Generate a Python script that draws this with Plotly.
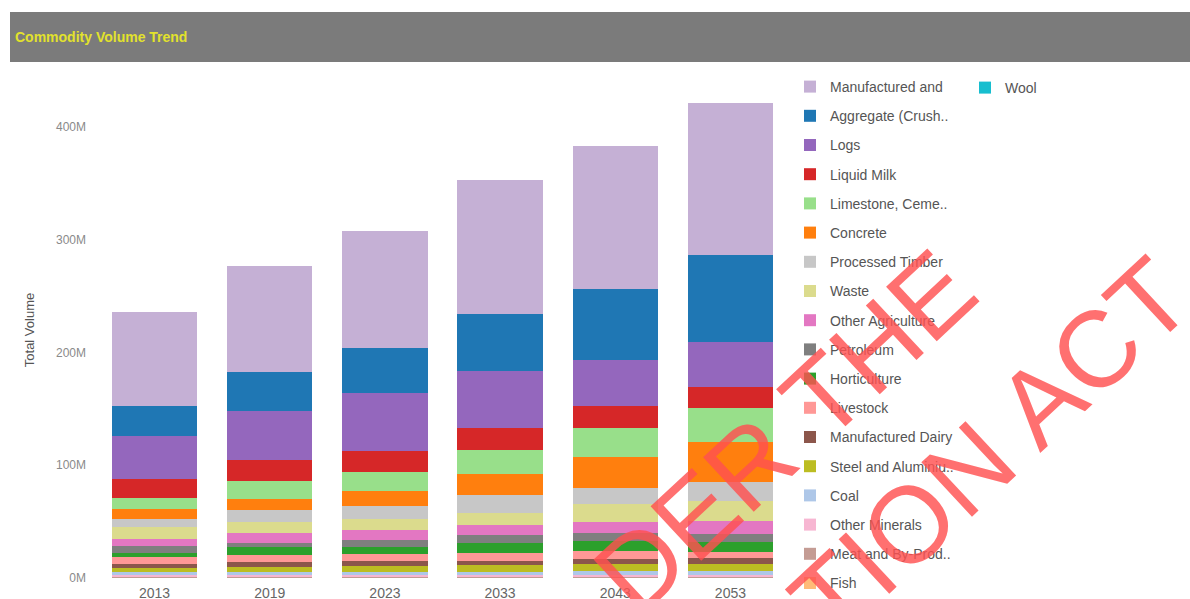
"""
Commodity Volume Trend

Stacked bar chart of total freight volume by commodity and year.
"""

import plotly.graph_objects as go

W, H = 1190, 599

years = ["2013", "2019", "2023", "2033", "2043", "2053"]

# commodity names as shown in the legend (top of stack first)
commodities = [
    "Manufactured and", "Aggregate (Crush..", "Logs", "Liquid Milk",
    "Limestone, Ceme..", "Concrete", "Processed Timber", "Waste",
    "Other Agriculture", "Petroleum", "Horticulture", "Livestock",
    "Manufactured Dairy", "Steel and Aluminiu..", "Coal", "Other Minerals",
    "Meat and By-Prod..", "Fish", "Wool",
]

colors = [
    "#c5b0d5", "#1f77b4", "#9467bd", "#d62728", "#98df8a", "#ff7f0e",
    "#c7c7c7", "#dbdb8d", "#e377c2", "#7f7f7f", "#2ca02c", "#ff9896",
    "#8c564b", "#bcbd22", "#aec7e8", "#f7b6d2", "#c49c94", "#ffbb78",
    "#17becf",
]

# volumes in millions, per year
manufactured = [83, 94, 104, 119, 127, 135]
aggregate = [27, 35, 40, 51, 63, 77]
logs = [38, 43, 51, 50, 40, 40]
liquid_milk = [17, 19, 19, 20, 20, 19]
limestone = [10, 16, 17, 21, 26, 30]
concrete = [9, 10, 13, 19, 27, 35]
processed_timber = [7, 10, 11.5, 16, 14, 17]
waste = [10.5, 10, 10, 10.5, 16, 18]
other_agriculture = [6, 9, 9, 9, 10, 11.5]
petroleum = [6, 3.5, 6, 7, 7, 7]
horticulture = [3.5, 7, 6, 9, 9, 9]
livestock = [7, 6, 6, 7, 7, 5.5]
manufactured_dairy = [3.5, 4.5, 5, 3.5, 4.5, 5]
steel = [3.5, 4.5, 5, 6, 6, 6]
coal = [2.5, 3, 3, 3, 3.5, 3.5]
other_minerals = [1, 1, 1, 1, 1.5, 1.5]
meat = [0.8, 0.8, 0.8, 0.8, 0.8, 0.8]
fish = [0.5, 0.5, 0.5, 0.5, 0.5, 0.5]
wool = [0.2, 0.2, 0.2, 0.2, 0.2, 0.2]

series = [
    manufactured, aggregate, logs, liquid_milk, limestone, concrete,
    processed_timber, waste, other_agriculture, petroleum, horticulture,
    livestock, manufactured_dairy, steel, coal, other_minerals, meat, fish,
    wool,
]

y_ticks = [0, 100, 200, 300, 400]
y_tick_text = ["0M", "100M", "200M", "300M", "400M"]

# plot area in pixels
L, R, T, B = 97, 788, 82, 578


def px_x(x):
    return (x - L) / (R - L)


def px_y(y):
    return (B - y) / (B - T)


fig = go.Figure()

# add bottom of stack first, legend keeps reference order
for i in reversed(range(len(commodities))):
    fig.add_trace(go.Bar(
        x=years,
        y=series[i],
        name=commodities[i],
        marker=dict(color=colors[i], line=dict(width=0)),
        legend="legend2" if commodities[i] == "Wool" else "legend",
        legendrank=i,
        legendgroup=commodities[i],
        hovertemplate="%{x}<br>%{fullData.name}: %{y:.1f}M<extra></extra>",
    ))

# header band
fig.add_shape(
    type="rect", xref="paper", yref="paper",
    x0=px_x(10), x1=px_x(1190), y0=px_y(62), y1=px_y(12),
    fillcolor="#7b7b7b", line=dict(width=0), layer="below",
)
fig.add_annotation(
    xref="paper", yref="paper", x=px_x(13), y=px_y(37),
    xanchor="left", yanchor="middle", showarrow=False,
    text="<b>Commodity Volume Trend</b>",
    font=dict(family="Liberation Sans, Arial", size=14, color="#e2e22c"),
)

# watermark
for text, cx, cy in [("DER THE", 785, 432), ("TION ACT", 990, 448)]:
    fig.add_annotation(
        xref="paper", yref="paper", x=px_x(cx), y=px_y(cy),
        xanchor="center", yanchor="middle", showarrow=False,
        text=text, textangle=-43,
        font=dict(family="Liberation Sans, Arial", size=108,
                  color="rgba(255,80,80,0.82)"),
    )

legend_font = dict(family="Liberation Sans, Arial", size=14, color="#555555")

fig.update_layout(
    width=W,
    height=H,
    margin=dict(l=L, r=W - R, t=T, b=H - B),
    paper_bgcolor="white",
    plot_bgcolor="white",
    barmode="stack",
    bargap=0.26,
    font=dict(family="Liberation Sans, Arial"),
    xaxis=dict(
        showgrid=False,
        showline=False,
        ticks="",
        ticklabelstandoff=5,
        automargin=False,
        tickfont=dict(size=14, color="#666666"),
    ),
    yaxis=dict(
        range=[0, 440],
        tickvals=y_ticks,
        ticktext=y_tick_text,
        ticklabelstandoff=10,
        showgrid=False,
        zeroline=False,
        showline=False,
        automargin=False,
        tickfont=dict(size=12, color="#8a8a8a"),
        title=dict(text="Total Volume", font=dict(size=13, color="#555555"),
                   standoff=18),
    ),
    legend=dict(
        x=px_x(790), y=px_y(76), xanchor="left", yanchor="top",
        traceorder="grouped", tracegroupgap=8, maxheight=1000,
        font=legend_font, bgcolor="rgba(0,0,0,0)",
    ),
    legend2=dict(
        x=px_x(965), y=px_y(72), xanchor="left", yanchor="top",
        font=legend_font, bgcolor="rgba(0,0,0,0)",
    ),
)

fig.write_html(
    "out.html",
    config={"displayModeBar": False},
    post_script="document.body.style.margin='0';",
)
